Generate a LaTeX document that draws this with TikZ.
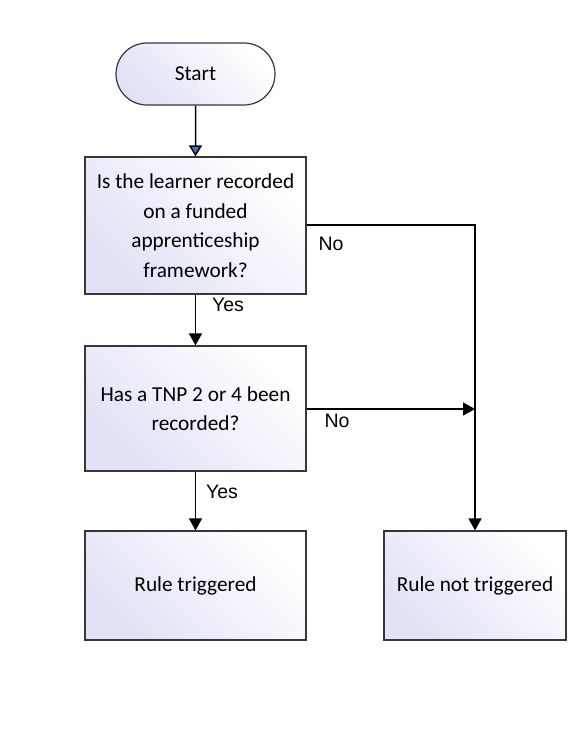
\documentclass[tikz,border=0pt]{standalone}
\usepackage{fontspec}
\setmainfont{Carlito}
\newfontfamily\arialfont{Liberation Sans}
\usetikzlibrary{arrows.meta,shapes.misc}
\definecolor{gradc}{RGB}{224,226,245}
\definecolor{edgec}{RGB}{55,55,55}
\definecolor{tipblue}{RGB}{68,114,196}
\tikzset{
  boxshade/.style={draw=edgec, line width=1.2pt, top color=white, bottom color=gradc, shading angle=-45},
  procbox/.style={boxshade, rectangle, minimum width=221pt, minimum height=#1, inner sep=0pt, align=center, font=\fontsize{21.3}{29.5}\selectfont},
  termbox/.style={boxshade, rounded rectangle, minimum width=159pt, minimum height=62pt, inner sep=0pt, font=\fontsize{21.3}{24}\selectfont},
  conn/.style={line width=1.5pt, -{Triangle[width=13pt,length=12pt]}},
  lbl/.style={font=\arialfont\fontsize{19.5}{22}\selectfont}
}
\begin{document}
\begin{tikzpicture}[x=1pt,y=-1pt]
\useasboundingbox (0,0) rectangle (577,733);
\node[termbox] (start) at (195.5,74) {Start};
\node[procbox=137pt] (q1) at (195.5,225.5) {Is the learner recorded\\on a funded\\apprenticeship\\framework?};
\node[procbox=125pt] (q2) at (195.5,408.5) {Has a TNP 2 or 4 been\\recorded?};
\node[procbox=109pt] (yes) at (195.5,585.5) {Rule triggered};
\node[procbox=109pt, minimum width=182pt] (no) at (475,585.5) {Rule not triggered};
\coordinate (corner) at (475,225);
\coordinate (join) at (475,409);
\draw[line width=1.5pt, -{Triangle[width=13pt,length=11pt,fill=tipblue]}] (start) -- (q1);
\draw[conn] (q1) -- (q2);
\draw[conn] (q2) -- (yes);
\draw[conn] (q1.east |- corner) -- (corner) -- (no.north);
\draw[conn] (q2.east |- join) -- (join);
\node[lbl] (lyes1) at (228,305) {Yes};
\node[lbl] (lyes2) at (222,492) {Yes};
\node[lbl] (lno1) at (331,244) {No};
\node[lbl] (lno2) at (337,421) {No};
\end{tikzpicture}
\end{document}
